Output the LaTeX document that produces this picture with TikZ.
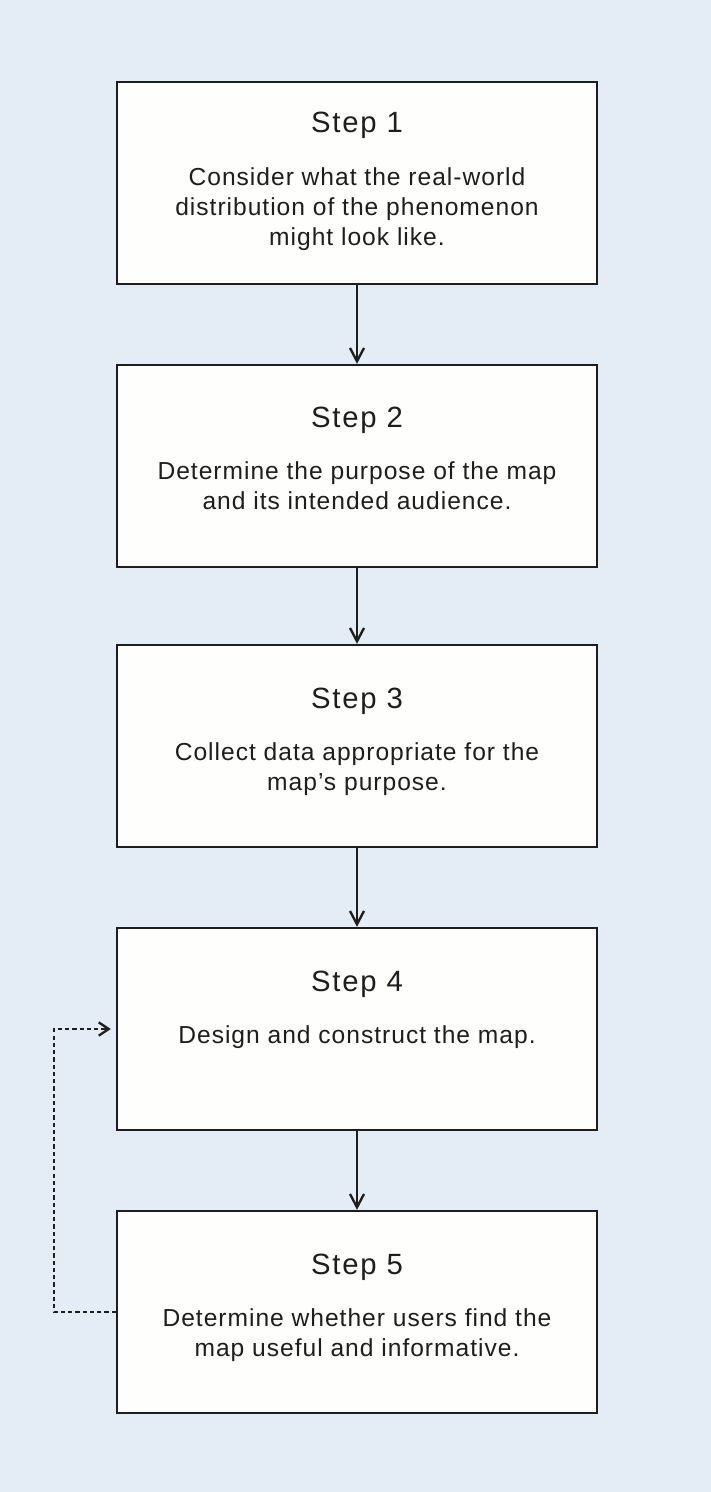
\documentclass[tikz,border=0pt]{standalone}
\usepackage{fontspec}
\setmainfont{Liberation Sans}
\usetikzlibrary{arrows.meta,positioning,calc}
\definecolor{bgblue}{RGB}{228,237,245}
\definecolor{boxfill}{RGB}{254,254,253}
\definecolor{inkgray}{RGB}{30,30,30}

\begin{document}
\begin{tikzpicture}[
    stepbox/.style={draw=inkgray, fill=boxfill, line width=2pt,
        minimum width=14.4cm, minimum height=6.06cm},
    steptitle/.style={font=\fontsize{25}{28}\selectfont\addfontfeature{LetterSpace=6}, text=inkgray},
    stepbody/.style={font=\fontsize{21}{25.6}\selectfont\addfontfeature{LetterSpace=4}, text=inkgray,
        align=center, anchor=north, inner sep=0pt},
    arrw/.style={-{Straight Barb[length=0.4cm,width=0.42cm]}, inkgray, line width=2pt},
    loopback/.style={-{Straight Barb[length=0.3cm,width=0.4cm]}, inkgray,
        line width=2pt, dash pattern=on 3.6pt off 2.6pt},
]
\fill[bgblue] (0,0) rectangle (21.33,-44.76);

% === STEPS ===
\node[stepbox] (s1) at (10.71,-5.49) {};
\node[steptitle] (t1) at ([yshift=-1.32cm]s1.north) {Step 1};
\node[stepbody] (b1) at ([yshift=-2.6cm]s1.north) {Consider what the real-world\\distribution of the phenomenon\\might look like.};

\node[stepbox] (s2) at (10.71,-13.98) {};
\node[steptitle] (t2) at ([yshift=-1.68cm]s2.north) {Step 2};
\node[stepbody] (b2) at ([yshift=-2.92cm]s2.north) {Determine the purpose of the map\\and its intended audience.};

\node[stepbox] (s3) at (10.71,-22.38) {};
\node[steptitle] (t3) at ([yshift=-1.71cm]s3.north) {Step 3};
\node[stepbody] (b3) at ([yshift=-2.96cm]s3.north) {Collect data appropriate for the\\map's purpose.};

\node[stepbox] (s4) at (10.71,-30.87) {};
\node[steptitle] (t4) at ([yshift=-1.71cm]s4.north) {Step 4};
\node[stepbody] (b4) at ([yshift=-2.96cm]s4.north) {Design and construct the map.};

\node[stepbox] (s5) at (10.71,-39.36) {};
\node[steptitle] (t5) at ([yshift=-1.71cm]s5.north) {Step 5};
\node[stepbody] (b5) at ([yshift=-2.96cm]s5.north) {Determine whether users find the\\map useful and informative.};

% === ARROWS ===
\draw[arrw] (s1) -- (s2);
\draw[arrw] (s2) -- (s3);
\draw[arrw] (s3) -- (s4);
\draw[arrw] (s4) -- (s5);

% feedback loop
\coordinate (lp) at (1.62,0);
\draw[loopback] (s5.west) -| (lp |- s4.west) -- ([xshift=-0.15cm]s4.west);
\end{tikzpicture}
\end{document}
